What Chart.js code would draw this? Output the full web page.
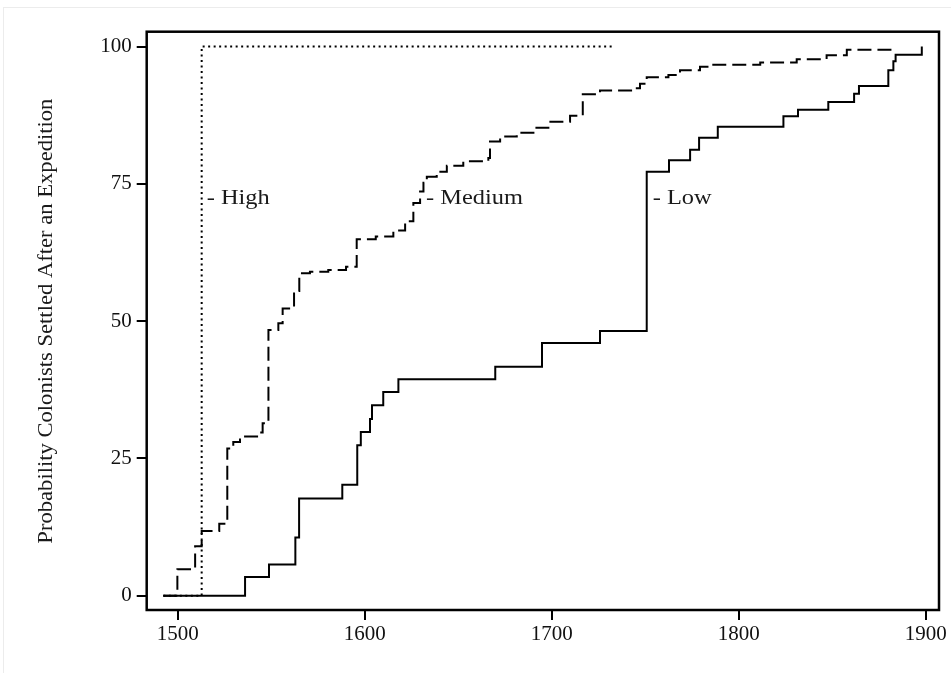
<!DOCTYPE html>
<html>
<head>
<meta charset="utf-8">
<script src="https://cdn.jsdelivr.net/npm/chart.js@4.4.0/dist/chart.umd.min.js"></script>
<style>
  html, body { margin: 0; padding: 0; background: #fff; }
  #wrap { position: relative; width: 951px; height: 673px; overflow: hidden; }
  #edge { position: absolute; left: 3px; top: 7px; right: 0; bottom: 0; border-top: 1px solid #ececec; border-left: 1px solid #ececec; }
  canvas { position: absolute; left: 0; top: 0; }
</style>
</head>
<body>
<div id="wrap">
  <div id="edge"></div>
  <canvas id="chart" width="951" height="673"></canvas>
</div>
<script>
// cumulative share settled after an expedition, by year
const lowYears = [1492.3, 1536.0, 1548.8, 1562.9, 1564.9, 1588.0, 1596.0, 1597.9, 1602.8, 1603.9, 1609.9, 1618.0,
                  1669.8, 1694.8, 1725.8, 1750.8, 1762.7, 1774.0, 1778.8, 1788.8, 1823.9, 1831.7, 1847.9, 1861.7,
                  1864.3, 1880.0, 1882.7, 1883.9, 1897.9];
const lowPct   = [0, 3.4, 5.7, 10.6, 17.7, 20.2, 27.4, 29.8, 32.2, 34.7, 37.1, 39.4,
                  41.7, 46.0, 48.2, 77.2, 79.3, 81.2, 83.4, 85.4, 87.3, 88.5, 89.9, 91.4,
                  92.8, 95.7, 97.3, 98.5, 100];

const mediumYears = [1492.3, 1499.8, 1509.3, 1512.8, 1522.2, 1526.5, 1529.7, 1533.3, 1543.1, 1545.4, 1548.5,
                     1553.8, 1556.1, 1562.2, 1565.0, 1570.7, 1580.5, 1590.0, 1595.7, 1605.9, 1615.3, 1621.6,
                     1626.0, 1629.6, 1631.4, 1633.2, 1638.5, 1643.9, 1652.7, 1666.1, 1667.0, 1672.4, 1681.3,
                     1690.2, 1698.2, 1709.8, 1716.6, 1725.8, 1745.5, 1747.2, 1750.8, 1762.4, 1768.6, 1779.3,
                     1786.4, 1811.5, 1831.0, 1847.0, 1857.8, 1884.5];
const mediumPct   = [0, 4.8, 9.0, 11.8, 13.1, 26.8, 28.0, 29.0, 29.7, 31.4, 48.4,
                     49.6, 52.3, 55.5, 58.7, 59.0, 59.3, 59.9, 64.9, 65.4, 66.5, 68.2,
                     71.5, 73.6, 75.2, 76.3, 77.2, 78.3, 79.1, 79.7, 82.7, 83.6, 84.3,
                     85.2, 86.3, 87.4, 91.3, 92.0, 92.4, 93.2, 94.4, 94.8, 95.7, 96.3,
                     96.7, 97.1, 97.7, 98.4, 99.4, 99.4];

const highYears = [1492.3, 1512.8, 1732.1];
const highPct   = [0, 100, 100];

const xTicks = [1500, 1600, 1700, 1800, 1900];
const yTicks = [0, 25, 50, 75, 100];

const labelText  = ['- High', '- Medium', '- Low'];
const labelYears = [1515.5, 1632.8, 1754.0];
const labelPct   = [71.3, 71.3, 71.3];

const yTitle = 'Probability Colonists Settled After an Expedition';
const serif = "'Liberation Serif', 'DejaVu Serif', serif";

const toPts = (xs, ys) => xs.map((x, i) => ({ x: x, y: ys[i] }));

// frame, in-plot labels and the rotated y title
const framePlugin = {
    id: 'frame',
    afterDraw(chart) {
        const { ctx, chartArea: a, scales } = chart;
        ctx.save();
        ctx.strokeStyle = '#000';
        ctx.lineWidth = 2.5;
        ctx.strokeRect(a.left, a.top, a.right - a.left, a.bottom - a.top);

        ctx.fillStyle = '#1a1a1a';
        ctx.font = '20px ' + serif;
        ctx.textAlign = 'left';
        ctx.textBaseline = 'alphabetic';
        labelText.forEach((t, i) => {
            ctx.save();
            ctx.translate(scales.x.getPixelForValue(labelYears[i]), scales.y.getPixelForValue(labelPct[i]));
            ctx.scale(1.22, 1);   // the source type is set wide
            ctx.fillText(t, 0, 0);
            ctx.restore();
        });

        ctx.translate(47, scales.y.getPixelForValue(50));
        ctx.rotate(-Math.PI / 2);
        ctx.scale(1.13, 1);
        ctx.textAlign = 'center';
        ctx.textBaseline = 'middle';
        ctx.font = '20px ' + serif;
        ctx.fillText(yTitle, 0, 0);
        ctx.restore();
    }
};

const lineStyle = (pts, dash) => ({
    data: pts,
    borderColor: '#000',
    borderWidth: 2,
    borderDash: dash,
    borderCapStyle: 'butt',
    stepped: true,
    pointRadius: 0,
    fill: false
});

new Chart(document.getElementById('chart'), {
    type: 'line',
    data: {
        datasets: [
            lineStyle(toPts(highYears, highPct), [2, 3.5]),
            lineStyle(toPts(mediumYears, mediumPct), [14, 6]),
            lineStyle(toPts(lowYears, lowPct), [])
        ]
    },
    options: {
        responsive: false,
        animation: false,
        devicePixelRatio: 1,
        layout: { padding: { left: 0, top: 31.7, right: 12, bottom: 0 } },
        plugins: { legend: { display: false }, tooltip: { enabled: false } },
        scales: {
            x: {
                type: 'linear',
                min: 1483.4,
                max: 1907.1,
                afterBuildTicks: s => { s.ticks = xTicks.map(v => ({ value: v })); },
                afterFit: s => { s.height = 63; },
                grid: { drawOnChartArea: false, tickLength: 10, color: '#000', lineWidth: 2 },
                border: { display: false },
                ticks: { color: '#111', font: { family: serif, size: 21 }, padding: 2, maxRotation: 0,
                         callback: v => String(v) }
            },
            y: {
                min: -2.6,
                max: 102.7,
                afterBuildTicks: s => { s.ticks = yTicks.map(v => ({ value: v })); },
                afterFit: s => { s.width = 146.7; },
                grid: { drawOnChartArea: false, tickLength: 10, color: '#000', lineWidth: 2 },
                border: { display: false },
                ticks: { color: '#111', font: { family: serif, size: 21 }, padding: 5,
                         callback: v => String(v) }
            }
        }
    },
    plugins: [framePlugin]
});
</script>
</body>
</html>
